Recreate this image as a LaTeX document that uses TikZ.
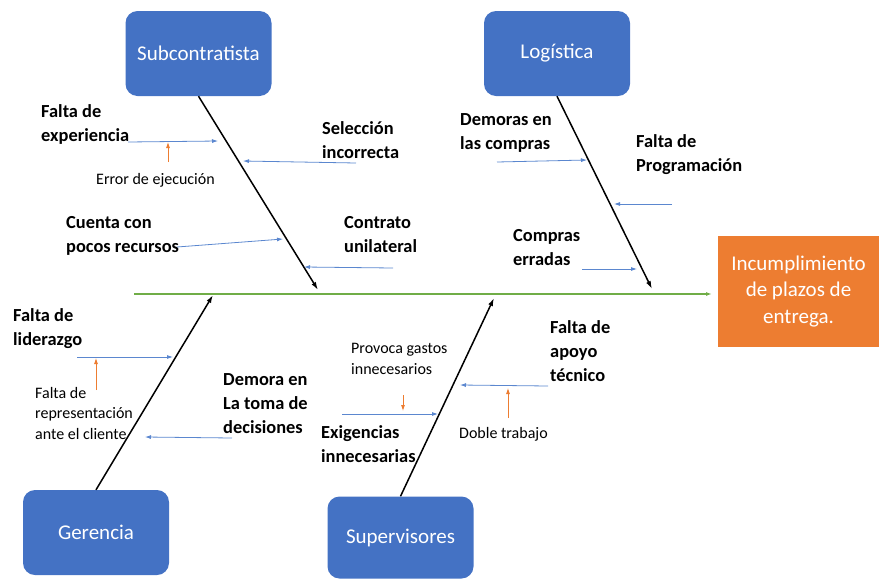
\documentclass[tikz,border=0pt]{standalone}
\usepackage{fontspec}
\setmainfont{Carlito}
\usetikzlibrary{arrows.meta}
\definecolor{boxblue}{HTML}{4472C4}
\definecolor{spinegreen}{HTML}{70AD47}
\definecolor{effectorange}{HTML}{ED7D31}
\definecolor{subblue}{HTML}{5B87CF}
\tikzset{box/.style={fill=boxblue, rounded corners=12pt, text=white,
    minimum width=146pt, minimum height=85pt, font=\fontsize{21}{25}\selectfont}}
\tikzset{bone/.style={line width=1.5pt, -{Latex[length=8pt,width=5pt]}}}
\tikzset{sub/.style={draw=subblue, line width=0.8pt, -{Latex[length=6pt,width=4pt]}}}
\tikzset{note/.style={draw=effectorange, line width=0.8pt, -{Latex[length=6pt,width=4pt]}}}
\tikzset{cause/.style={font=\bfseries\fontsize{18.4}{24}\selectfont, align=left,
    inner sep=0pt, anchor=base west}}
\tikzset{detail/.style={font=\fontsize{16}{20.5}\selectfont, align=left,
    inner sep=0pt, anchor=base west}}

\begin{document}
\begin{tikzpicture}[x=1pt,y=-1pt]
        \useasboundingbox (0,0) rectangle (879,579);
        % Category boxes
        \node[box] (subc) at (198.5,53.5) {Subcontratista};
        \node[box] (logi) at (557,53.5) {Logística};
        \node[box] (gere) at (96,532.5) {Gerencia};
        \node[box, minimum height=82pt] (supe) at (400.5,537.5) {Supervisores};
        % Effect box
        \node[fill=effectorange, minimum width=161pt, minimum height=111pt,
            text=white, align=center, font=\fontsize{21}{26.5}\selectfont]
            (efecto) at (798.5,291.5) {Incumplimiento\\de plazos de\\entrega.};
        % Spine
        \coordinate (spL) at (134,294);
        \coordinate (spR) at (712,294);
        \draw[spinegreen, line width=1.2pt, -{Latex[length=6pt,width=4pt]}] (spL) -- (spR);
        % Bones
        \coordinate (subcE) at (318,290);
        \coordinate (logiE) at (652,289);
        \coordinate (gereE) at (213,295);
        \coordinate (supeE) at (494,298);
        \draw[bone] (subc.south) -- (subcE);
        \draw[bone] (logi.south) -- (logiE);
        \draw[bone] (gere.north) -- (gereE);
        \draw[bone] (supe.north) -- (supeE);
        % Causes of Subcontratista (placed at the baseline of the last line)
        \node[cause] (fexp) at (41,141) {Falta de\\experiencia};
        \node[cause] (selinc) at (322,158) {Selección\\incorrecta};
        \node[cause] (cuenta) at (66,252) {Cuenta con\\pocos recursos};
        \node[cause] (contr) at (344,252) {Contrato\\unilateral};
        \node[detail] (error) at (96,184) {Error de ejecución};
        \draw[sub] (128,142) coordinate (fexpS) -- (218,141) coordinate (fexpE);
        \draw[sub] (356,163) coordinate (selS) -- (243,161) coordinate (selE);
        \draw[sub] (177,247) coordinate (cuenS) -- (283,239) coordinate (cuenE);
        \draw[sub] (393,268) coordinate (contS) -- (304,267) coordinate (contE);
        \draw[note] (168,162) coordinate (errS) -- (168,142) coordinate (errE);
        % Causes of Logística
        \node[cause] (demoras) at (460,149) {Demoras en\\las compras};
        \node[cause] (fprog) at (636,171) {Falta de\\Programación};
        \node[cause] (compras) at (513,265) {Compras\\erradas};
        \draw[sub] (497,162) coordinate (demS) -- (587,160) coordinate (demE);
        \draw[sub] (672,204) coordinate (progS) -- (614,204) coordinate (progE);
        \draw[sub] (582,269) coordinate (compS) -- (637,269) coordinate (compE);
        % Causes of Gerencia
        \node[cause] (flid) at (13,345) {Falta de\\liderazgo};
        \node[cause] (demora) at (223,433) {Demora en\\La toma de\\decisiones};
        \node[detail] (frep) at (35,439) {Falta de\\representación\\ante el cliente};
        \draw[sub] (77,357) coordinate (lidS) -- (173,357) coordinate (lidE);
        \draw[sub] (232,438) coordinate (tomS) -- (145,437) coordinate (tomE);
        \draw[note] (96,390) coordinate (repS) -- (96,358) coordinate (repE);
        % Causes of Supervisores
        \node[detail] (provoca) at (351,374) {Provoca gastos\\innecesarios};
        \node[cause] (exig) at (321,462) {Exigencias\\innecesarias};
        \node[cause] (fapoyo) at (550,381) {Falta de\\apoyo\\técnico};
        \node[detail] (doble) at (459,438) {Doble trabajo};
        \draw[sub] (342,414) coordinate (exiS) -- (438,414) coordinate (exiE);
        \draw[sub] (548,386) coordinate (apoS) -- (460,385) coordinate (apoE);
        \draw[note] (403,395) coordinate (provS) -- (403,411) coordinate (provE);
        \draw[note] (508,418) coordinate (dobS) -- (508,388) coordinate (dobE);
\end{tikzpicture}
\end{document}
